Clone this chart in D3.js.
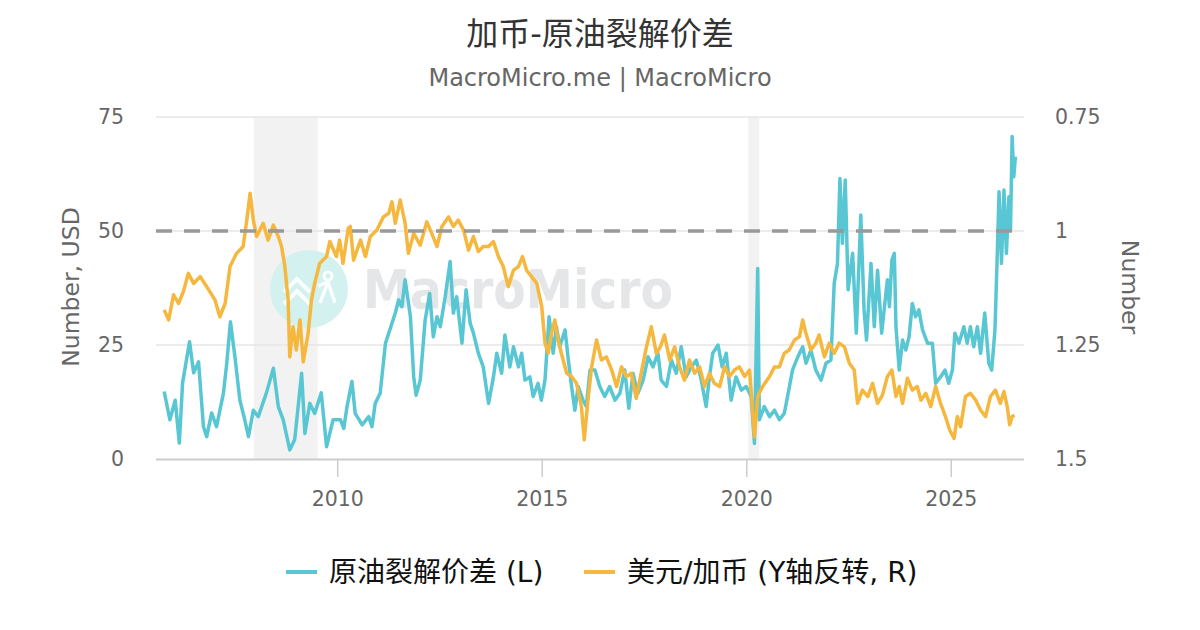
<!DOCTYPE html>
<html>
<head>
<meta charset="utf-8">
<script src="https://cdn.jsdelivr.net/npm/d3@7/dist/d3.min.js"></script>
<style>
  html, body { margin: 0; padding: 0; background: #fff; }
  svg { display: block; }
  text { font-family: "DejaVu Sans", "Noto Sans CJK SC", sans-serif; }
</style>
</head>
<body>
<svg id="chart" width="1200" height="630"></svg>
<script>
// ---------------- data ----------------
const titleText = "加币-原油裂解价差";
const subtitleText = "MacroMicro.me | MacroMicro";
const leftAxisTitle = "Number, USD";
const rightAxisTitle = "Number";
const seriesNames = ["原油裂解价差 (L)", "美元/加币 (Y轴反转, R)"];

const xTicks = [2010, 2015, 2020, 2025];
const leftTicks = [0, 25, 50, 75];
const rightTicks = [0.75, 1, 1.25, 1.5];
const referenceLine = 50;               // dashed line on the left axis
const recessionStarts = [2007.96, 2020.05];
const recessionEnds   = [2009.52, 2020.32];

// crack spread (left axis, USD)
const spreadYears = [2005.77,2005.91,2006.04,2006.14,2006.22,2006.39,2006.49,2006.61,2006.73,2006.81,
2006.93,2007.05,2007.22,2007.30,2007.39,2007.50,2007.62,2007.74,2007.83,2007.95,
2008.07,2008.27,2008.44,2008.56,2008.68,2008.84,2008.96,2009.13,2009.21,2009.33,
2009.45,2009.61,2009.74,2009.90,
2010.08,2010.16,2010.24,2010.36,2010.44,2010.61,2010.77,2010.85,2010.93,2011.05,
2011.18,2011.34,2011.42,2011.50,2011.58,2011.66,2011.79,2011.87,2011.93,2012.03,
2012.15,2012.26,2012.35,2012.44,2012.52,2012.64,2012.76,2012.84,2012.92,2013.05,
2013.15,2013.25,2013.33,2013.45,2013.57,2013.70,2013.82,2013.90,2014.02,2014.10,
2014.22,2014.31,2014.43,2014.51,2014.59,2014.71,2014.79,2014.91,2014.99,
2015.08,2015.18,2015.28,2015.36,2015.44,2015.57,2015.65,2015.73,2015.81,2015.89,
2016.01,2016.09,2016.18,2016.30,2016.42,2016.54,2016.66,2016.79,2016.91,2017.03,
2017.13,2017.23,2017.35,2017.48,2017.60,2017.72,2017.84,2017.92,2018.05,2018.17,
2018.29,2018.41,2018.53,2018.66,2018.78,2018.90,2019.02,2019.10,2019.18,2019.31,
2019.41,2019.51,2019.63,2019.75,2019.88,2020.00,2020.12,2020.20,2020.28,2020.32,
2020.44,2020.57,2020.69,2020.81,2020.93,2021.01,2021.13,2021.26,2021.38,2021.46,
2021.58,2021.70,2021.83,2021.95,2022.07,2022.15,2022.23,2022.29,2022.35,2022.42,
2022.49,2022.60,2022.69,2022.80,2022.88,2022.94,2023.05,2023.13,2023.21,2023.31,
2023.45,2023.50,2023.56,2023.62,2023.66,2023.74,2023.82,2023.90,2023.98,2024.06,
2024.14,2024.22,2024.31,2024.43,2024.55,2024.63,2024.75,2024.86,2024.95,2025.04,
2025.10,2025.20,2025.32,2025.40,2025.48,2025.56,2025.65,2025.73,2025.83,2025.93,
2026.00,2026.08,2026.13,2026.18,2026.24,2026.30,2026.36,2026.42,2026.46,2026.50,
2026.54,2026.58];
const spreadValues = [14.8,8.6,12.9,3.5,16.7,25.7,18.9,21.3,7.1,4.9,
10.1,7.1,14.5,21,30.1,22.4,12.9,8.6,4.9,10.7,
9.3,14.5,19.9,11.5,8.6,2.0,4.2,18.8,5.6,12.2,
10,14.5,2.7,8.6,
8.6,6.7,11.5,17.0,10,7.5,9.3,7.1,12.2,14.4,
25.4,29.8,32,34.9,33.4,39.3,31.2,18,14,17.3,
30.5,36.3,26.8,31.2,29.0,35.6,43.3,32,35.6,25.4,
37.1,29.8,27.6,23.2,20.2,12.2,18,23.2,18.8,27.2,
20.2,24.6,20.2,23.2,17.3,18,13.7,16.6,12.9,
17.3,31.2,23.2,29,24.6,28.3,21.7,15.9,10.7,15.9,
12.9,11.5,19.5,19.5,15.9,13.7,15.9,12.9,14.4,19.5,
11.1,18.8,14.4,17.3,22.4,20.2,23.2,17.3,15.9,21.7,
18.8,24.6,18,20.2,21.7,17.3,11.5,18,23.2,25,
20.2,23.2,12.9,18,15.1,15.9,13.7,3.4,41.8,8.6,
11.5,9.3,10.7,8.6,10,13.7,19.5,22.4,24.6,21,
23.9,19.5,17.3,21,21.7,38.5,42.9,61.5,47.3,61.2,
37.1,45.1,27.6,53.5,32.7,26.1,42.9,29,41.4,27.6,
39.3,33.4,43.6,45.1,29,19.5,26.1,23.9,26.8,34.1,
31.2,32.7,28.3,25.4,25.4,16.6,18,19.5,16.6,19.5,
27.6,25.4,29,25.4,29,24.6,29,23.2,32,21,
19.5,28.3,42.9,58.6,42.9,59,45.1,57.5,50.2,70.7,
61.9,66.3];

// USD/CAD (right axis, inverted)
const cadYears = [2005.77,2005.88,2006.00,2006.12,2006.24,2006.36,2006.49,2006.65,2006.81,2007.01,
2007.13,2007.26,2007.38,2007.54,2007.70,2007.79,2007.87,2007.95,2008.03,2008.19,
2008.31,2008.44,2008.56,2008.64,2008.72,2008.80,2008.84,2008.92,2009.00,2009.09,
2009.17,2009.29,2009.37,2009.45,2009.57,2009.74,2009.82,2009.98,2010.06,2010.14,
2010.27,2010.32,2010.40,2010.57,2010.69,2010.81,2010.97,2011.13,2011.26,2011.34,
2011.42,2011.54,2011.66,2011.74,2011.87,2012.03,2012.19,2012.31,2012.44,2012.56,
2012.72,2012.84,2012.96,2013.09,2013.21,2013.33,2013.45,2013.57,2013.70,2013.82,
2013.94,2014.06,2014.18,2014.31,2014.43,2014.53,2014.63,2014.75,2014.88,2015.00,
2015.08,2015.16,2015.24,2015.32,2015.40,2015.48,2015.61,2015.73,2015.85,2015.97,
2016.04,2016.13,2016.22,2016.34,2016.46,2016.58,2016.71,2016.83,2016.95,2017.07,
2017.19,2017.31,2017.43,2017.56,2017.68,2017.80,2017.90,2018.00,2018.13,2018.25,
2018.37,2018.49,2018.61,2018.74,2018.86,2018.98,2019.10,2019.22,2019.35,2019.47,
2019.59,2019.71,2019.83,2019.96,2020.08,2020.20,2020.28,2020.40,2020.57,2020.69,
2020.81,2020.93,2021.05,2021.18,2021.30,2021.38,2021.46,2021.58,2021.70,2021.78,
2021.91,2022.03,2022.15,2022.27,2022.40,2022.52,2022.64,2022.72,2022.84,2022.97,
2023.09,2023.21,2023.33,2023.45,2023.56,2023.66,2023.74,2023.82,2023.94,2024.06,
2024.18,2024.27,2024.39,2024.51,2024.63,2024.75,2024.87,2024.97,2025.08,2025.16,
2025.24,2025.36,2025.48,2025.61,2025.73,2025.85,2025.97,2026.09,2026.21,2026.30,
2026.38,2026.44,2026.50,2026.56];
const cadValues = [1.173,1.195,1.140,1.159,1.133,1.093,1.115,1.100,1.122,1.151,
1.188,1.159,1.078,1.049,1.034,0.976,0.917,0.976,1.012,0.983,
1.020,0.987,1.012,1.034,1.078,1.151,1.276,1.210,1.261,1.195,
1.287,1.224,1.151,1.115,1.071,1.056,1.023,1.056,1.020,1.071,
0.994,0.990,1.064,1.020,1.056,1.012,0.998,0.969,0.961,0.936,
0.983,0.932,0.983,1.049,1.005,1.031,0.980,1.005,1.034,0.990,
0.969,0.990,0.976,0.998,1.042,1.012,1.045,1.034,1.034,1.023,
1.056,1.078,1.122,1.086,1.078,1.056,1.086,1.100,1.115,1.166,
1.246,1.268,1.224,1.195,1.239,1.268,1.312,1.319,1.334,1.385,
1.458,1.371,1.298,1.239,1.283,1.276,1.305,1.341,1.298,1.319,
1.312,1.367,1.312,1.254,1.210,1.268,1.254,1.228,1.283,1.254,
1.298,1.327,1.283,1.312,1.298,1.341,1.312,1.334,1.341,1.298,
1.319,1.305,1.298,1.319,1.305,1.451,1.363,1.341,1.319,1.298,
1.298,1.268,1.261,1.239,1.232,1.195,1.224,1.261,1.246,1.228,
1.276,1.246,1.268,1.246,1.254,1.290,1.305,1.378,1.349,1.363,
1.334,1.378,1.360,1.319,1.305,1.363,1.341,1.378,1.323,1.349,
1.341,1.371,1.356,1.385,1.341,1.378,1.407,1.436,1.455,1.407,
1.429,1.363,1.356,1.371,1.393,1.407,1.363,1.349,1.378,1.352,
1.385,1.425,1.407,1.404];

// ---------------- drawing ----------------
const colors = { spread: "#58c7d3", cad: "#f5b73e" };
const svg = d3.select("#chart");
const plot = { left: 156, right: 1024, top: 117, bottom: 459 };

const x = d3.scaleLinear().domain([2005.57, 2026.79]).range([plot.left, plot.right]);
const yL = d3.scaleLinear().domain([0, 75]).range([plot.bottom, plot.top]);
const yR = d3.scaleLinear().domain([0.75, 1.5]).range([plot.top, plot.bottom]); // inverted

// titles
svg.append("text").attr("x", 600).attr("y", 45).attr("text-anchor", "middle")
  .attr("font-size", 32).attr("fill", "#333").text(titleText);
svg.append("text").attr("x", 600).attr("y", 86).attr("text-anchor", "middle")
  .attr("font-size", 24).attr("fill", "#666").text(subtitleText);

// recession bands
svg.append("g").selectAll("rect").data(recessionStarts).join("rect")
  .attr("x", d => x(d)).attr("y", plot.top)
  .attr("width", (d, i) => x(recessionEnds[i]) - x(d))
  .attr("height", plot.bottom - plot.top)
  .attr("fill", "#f2f2f2");

// gridlines
svg.append("g").selectAll("line").data(leftTicks.filter(t => t > 0)).join("line")
  .attr("x1", plot.left).attr("x2", plot.right)
  .attr("y1", d => yL(d)).attr("y2", d => yL(d))
  .attr("stroke", "#e6e6e6").attr("stroke-width", 1.5);

// watermark
const wm = svg.append("g");
wm.append("circle").attr("cx", 309).attr("cy", 289).attr("r", 39).attr("fill", "#d3f1ee");
wm.append("path").attr("d", "M284,292 L297,279 L310,292 M284,304 L297,291 L310,304")
  .attr("fill", "none").attr("stroke", "#fff").attr("stroke-width", 4).attr("opacity", 0.9);
wm.append("circle").attr("cx", 328).attr("cy", 276).attr("r", 4).attr("fill", "none")
  .attr("stroke", "#fff").attr("stroke-width", 3).attr("opacity", 0.9);
wm.append("path").attr("d", "M318,286 L328,282 L335,303 M328,282 L320,303")
  .attr("fill", "none").attr("stroke", "#fff").attr("stroke-width", 3.5).attr("opacity", 0.9);
wm.append("text").attr("x", 363).attr("y", 308).attr("font-family", "Lato, Inter, sans-serif")
  .attr("font-weight", 700).attr("font-size", 54).attr("fill", "#e5e6e8")
  .attr("textLength", 310).attr("lengthAdjust", "spacingAndGlyphs").text("MacroMicro");

// x axis baseline and ticks
svg.append("line").attr("x1", plot.left).attr("x2", plot.right)
  .attr("y1", plot.bottom + 0.5).attr("y2", plot.bottom + 0.5)
  .attr("stroke", "#ccc").attr("stroke-width", 2);
const xAxis = svg.append("g").attr("transform", `translate(0,${plot.bottom})`)
  .call(d3.axisBottom(x).tickValues(xTicks).tickFormat(d3.format("d")).tickSize(18).tickPadding(14));
xAxis.select(".domain").remove();
xAxis.selectAll(".tick line").attr("stroke", "#ccc").attr("stroke-width", 1.5);
xAxis.selectAll(".tick text").attr("fill", "#666").attr("font-size", 20.5)
  .attr("font-family", "DejaVu Sans, sans-serif");

// left axis labels
const yAxisL = svg.append("g").attr("transform", `translate(${plot.left},0)`)
  .call(d3.axisLeft(yL).tickValues(leftTicks).tickSize(0).tickPadding(32));
yAxisL.select(".domain").remove();
yAxisL.selectAll(".tick text").attr("fill", "#666").attr("font-size", 20.5)
  .attr("font-family", "DejaVu Sans, sans-serif");

// right axis labels
const yAxisR = svg.append("g").attr("transform", `translate(${plot.right},0)`)
  .call(d3.axisRight(yR).tickValues(rightTicks).tickFormat(d3.format("~g")).tickSize(0).tickPadding(31));
yAxisR.select(".domain").remove();
yAxisR.selectAll(".tick text").attr("fill", "#666").attr("font-size", 20.5)
  .attr("font-family", "DejaVu Sans, sans-serif");

// axis titles
svg.append("text").attr("transform", "translate(79,287) rotate(-90)")
  .attr("text-anchor", "middle").attr("font-size", 23.5).attr("fill", "#666").text(leftAxisTitle);
svg.append("text").attr("transform", "translate(1122,287) rotate(90)")
  .attr("text-anchor", "middle").attr("font-size", 23.5).attr("fill", "#666").text(rightAxisTitle);

// series
const spreadData = spreadYears.map((t, i) => [t, spreadValues[i]]);
const cadData = cadYears.map((t, i) => [t, cadValues[i]]);
const lineL = d3.line().x(d => x(d[0])).y(d => yL(d[1]));
const lineR = d3.line().x(d => x(d[0])).y(d => yR(d[1]));

svg.append("path").datum(spreadData).attr("d", lineL)
  .attr("fill", "none").attr("stroke", colors.spread).attr("stroke-width", 3.5)
  .attr("stroke-linejoin", "round");
svg.append("path").datum(cadData).attr("d", lineR)
  .attr("fill", "none").attr("stroke", colors.cad).attr("stroke-width", 3.5)
  .attr("stroke-linejoin", "round");

// dashed reference line (on top)
svg.append("line").attr("x1", plot.left).attr("x2", plot.right)
  .attr("y1", yL(referenceLine)).attr("y2", yL(referenceLine))
  .attr("stroke", "#999").attr("stroke-width", 3.5).attr("stroke-dasharray", "16,12");

// legend
const legendItems = [
  { name: seriesNames[0], color: colors.spread, x: 286 },
  { name: seriesNames[1], color: colors.cad, x: 584 }
];
const lg = svg.append("g").selectAll("g").data(legendItems).join("g")
  .attr("transform", d => `translate(${d.x},572)`);
lg.append("line").attr("x1", 0).attr("x2", 31).attr("y1", 0).attr("y2", 0)
  .attr("stroke", d => d.color).attr("stroke-width", 4);
lg.append("text").attr("x", 43).attr("y", 9.5).attr("font-size", 28).attr("fill", "#111")
  .text(d => d.name);
</script>
</body>
</html>
